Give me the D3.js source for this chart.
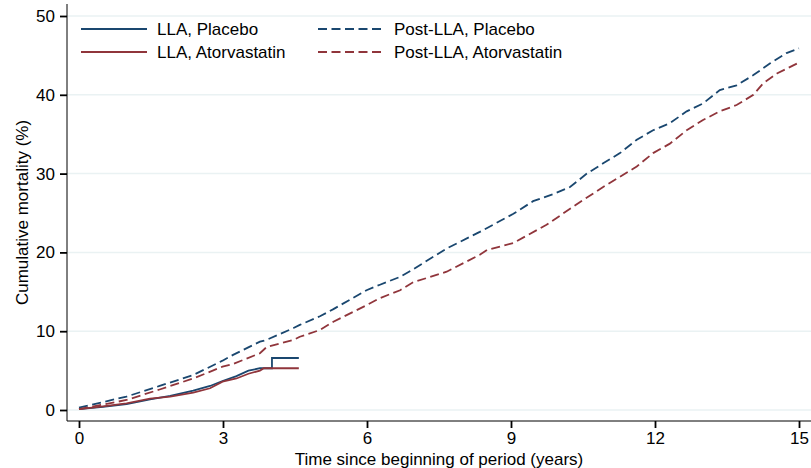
<!DOCTYPE html>
<html>
<head>
<meta charset="utf-8">
<script src="https://cdn.jsdelivr.net/npm/d3@7"></script>
<style>
  html, body { margin: 0; padding: 0; background: #fff; }
  svg { display: block; font-family: "Liberation Sans", Arial, sans-serif; }
</style>
</head>
<body>
<svg id="chart" width="811" height="468"></svg>
<script>
// ---- data ----
const xTicks = [0, 3, 6, 9, 12, 15];
const yTicks = [0, 10, 20, 30, 40, 50];

const llaPlaceboT = [0, 0.5, 0.99, 1.48, 1.9, 2.38, 2.73, 2.99, 3.28, 3.53, 3.77, 4.02, 4.02, 4.58];
const llaPlaceboV = [0.1, 0.4, 0.76, 1.35, 1.78, 2.45, 3.05, 3.68, 4.3, 5.0, 5.3, 5.3, 6.6, 6.6];

const llaAtorvaT = [0, 0.5, 0.99, 1.48, 1.9, 2.38, 2.73, 2.99, 3.28, 3.53, 3.77, 3.85, 4.58];
const llaAtorvaV = [0.1, 0.45, 0.85, 1.44, 1.7, 2.2, 2.76, 3.6, 4.0, 4.6, 5.0, 5.3, 5.3];

const postPlaceboT = [0, 0.99, 1.68, 2.38, 2.99, 3.21, 3.77, 3.91, 4.47, 4.6, 5.02, 5.3, 5.99, 6.27, 6.69, 6.96, 7.66, 8.35, 9.05, 9.46, 9.88, 10.23, 10.58, 10.92, 11.27, 11.62, 11.96, 12.31, 12.66, 13.0, 13.35, 13.7, 14.05, 14.4, 14.74, 15.0];
const postPlaceboV = [0.3, 1.7, 3.05, 4.44, 6.26, 7.0, 8.67, 8.9, 10.4, 10.8, 11.9, 12.8, 15.2, 15.9, 16.9, 17.85, 20.5, 22.6, 24.9, 26.5, 27.4, 28.3, 30.0, 31.3, 32.6, 34.3, 35.5, 36.4, 37.9, 38.9, 40.6, 41.2, 42.5, 44.0, 45.3, 45.9];

const postAtorvaT = [0, 0.99, 1.68, 2.38, 2.99, 3.21, 3.77, 3.91, 4.47, 4.6, 5.02, 5.3, 5.99, 6.27, 6.69, 6.96, 7.66, 8.35, 8.5, 9.05, 9.74, 10.44, 10.92, 11.27, 11.62, 11.96, 12.31, 12.66, 13.0, 13.35, 13.7, 14.05, 14.26, 14.54, 15.0];
const postAtorvaV = [0.1, 1.27, 2.6, 4.0, 5.5, 5.84, 7.2, 8.0, 8.9, 9.3, 10.15, 11.2, 13.3, 14.2, 15.2, 16.2, 17.55, 19.7, 20.3, 21.2, 23.5, 26.4, 28.3, 29.6, 30.9, 32.6, 33.8, 35.5, 36.8, 37.9, 38.7, 40.0, 41.5, 42.7, 44.1];

const seriesNames = ["LLA, Placebo", "LLA, Atorvastatin", "Post-LLA, Placebo", "Post-LLA, Atorvastatin"];
const xTitle = "Time since beginning of period (years)";
const yTitle = "Cumulative mortality (%)";

// ---- styling ----
const BLUE = "#1a476f";
const RED = "#90353b";
const GRID = "#eaf2f3";
const FONT = 17;

const series = [
  { name: seriesNames[0], t: llaPlaceboT, v: llaPlaceboV, color: BLUE, dash: null },
  { name: seriesNames[1], t: llaAtorvaT, v: llaAtorvaV, color: RED, dash: null },
  { name: seriesNames[2], t: postPlaceboT, v: postPlaceboV, color: BLUE, dash: "9,4.5" },
  { name: seriesNames[3], t: postAtorvaT, v: postAtorvaV, color: RED, dash: "9,4.5" }
];

const svg = d3.select("#chart");
const plotLeft = 67, plotRight = 811, plotTop = 4, plotBottom = 421;

const x = d3.scaleLinear().domain([0, 15]).range([79, 799]);
const y = d3.scaleLinear().domain([0, 50]).range([410, 16]);

// gridlines
svg.append("g")
  .selectAll("line")
  .data(yTicks)
  .join("line")
  .attr("x1", plotLeft).attr("x2", plotRight)
  .attr("y1", d => y(d)).attr("y2", d => y(d))
  .attr("stroke", GRID).attr("stroke-width", 1.5);

// lines
const line = d3.line().x(d => x(d[0])).y(d => y(d[1])).curve(d3.curveLinear);
series.forEach(s => {
  const pts = s.t.map((t, i) => [t, s.v[i]]);
  svg.append("path")
    .attr("d", line(pts))
    .attr("fill", "none")
    .attr("stroke", s.color)
    .attr("stroke-width", 1.8)
    .attr("stroke-dasharray", s.dash);
});

// y axis
const yAxis = d3.axisLeft(y).tickValues(yTicks).tickSize(7).tickPadding(5).tickFormat(d3.format("d"));
const gy = svg.append("g").attr("transform", `translate(${plotLeft},0)`).call(yAxis);
gy.select(".domain").remove();
gy.selectAll(".tick line").attr("stroke", "#000").attr("stroke-width", 1.8);
gy.selectAll(".tick text").attr("font-size", FONT).attr("fill", "#000").attr("font-family", "Liberation Sans, Arial, sans-serif");
svg.append("line").attr("x1", plotLeft).attr("x2", plotLeft).attr("y1", plotTop).attr("y2", plotBottom)
  .attr("stroke", "#000").attr("stroke-width", 1);

// x axis
const xAxis = d3.axisBottom(x).tickValues(xTicks).tickSize(7).tickPadding(4).tickFormat(d3.format("d"));
const gx = svg.append("g").attr("transform", `translate(0,${plotBottom})`).call(xAxis);
gx.select(".domain").remove();
gx.selectAll(".tick line").attr("stroke", "#000").attr("stroke-width", 1.8);
gx.selectAll(".tick text").attr("font-size", FONT).attr("fill", "#000").attr("font-family", "Liberation Sans, Arial, sans-serif");
svg.append("line").attr("x1", plotLeft).attr("x2", plotRight).attr("y1", plotBottom).attr("y2", plotBottom)
  .attr("stroke", "#000").attr("stroke-width", 1);

// axis titles
svg.append("text")
  .attr("x", (plotLeft + plotRight) / 2).attr("y", 465)
  .attr("text-anchor", "middle").attr("font-size", FONT).attr("fill", "#000")
  .text(xTitle);
svg.append("text")
  .attr("transform", `translate(28,${(plotTop + plotBottom) / 2}) rotate(-90)`)
  .attr("text-anchor", "middle").attr("font-size", FONT).attr("fill", "#000")
  .text(yTitle);

// legend
const legendPos = [
  { lx1: 81, lx2: 147, tx: 157, y: 29 },
  { lx1: 81, lx2: 147, tx: 157, y: 52 },
  { lx1: 318, lx2: 384, tx: 394, y: 29 },
  { lx1: 318, lx2: 384, tx: 394, y: 52 }
];
const lg = svg.append("g");
series.forEach((s, i) => {
  const p = legendPos[i];
  lg.append("line").attr("x1", p.lx1).attr("x2", p.lx2).attr("y1", p.y).attr("y2", p.y)
    .attr("stroke", s.color).attr("stroke-width", 2).attr("stroke-dasharray", s.dash);
  lg.append("text").attr("x", p.tx).attr("y", p.y).attr("dy", "0.35em")
    .attr("font-size", FONT).attr("fill", "#000").text(s.name);
});
</script>
</body>
</html>
